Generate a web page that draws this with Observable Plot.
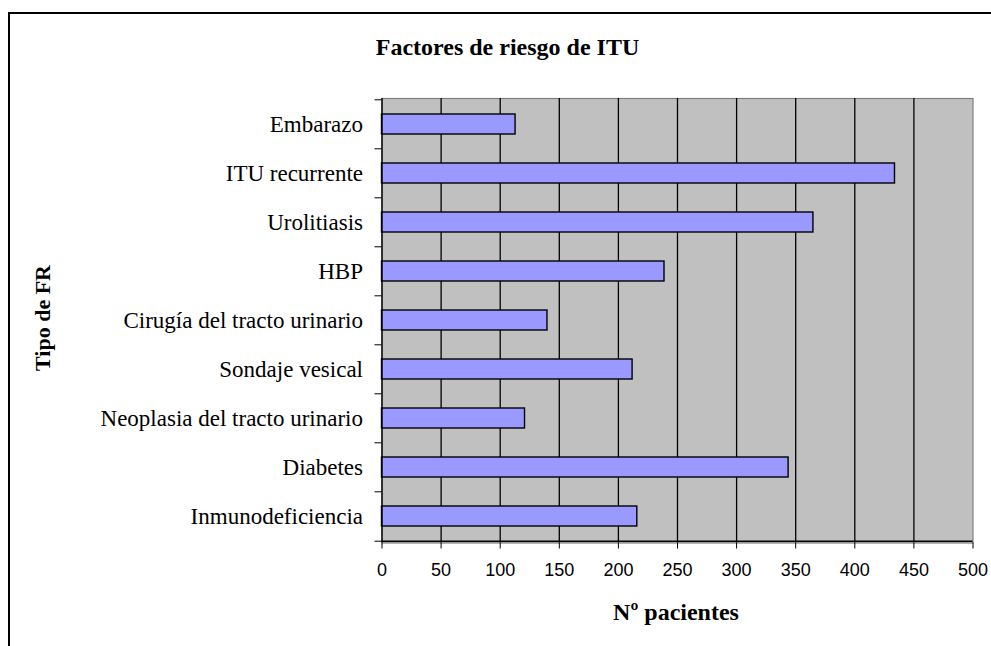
<!DOCTYPE html>
<html><head><meta charset="utf-8">
<script src="https://cdn.jsdelivr.net/npm/d3@7"></script>
<script src="https://cdn.jsdelivr.net/npm/@observablehq/plot@0.6"></script>
<style>
html,body{margin:0;padding:0;background:#fff;overflow:hidden;width:991px;height:646px}
#wrap{position:relative;width:991px;height:646px;overflow:hidden}
#border{position:absolute;left:8px;top:12px;width:1100px;height:800px;border:2px solid #000;box-sizing:border-box}
#chart{position:absolute;left:0;top:0}
.t{position:absolute;font-family:"Liberation Serif","Times New Roman",serif;font-weight:bold;color:#000;white-space:nowrap}
#title{left:0;width:1015px;text-align:center;top:35px;font-size:24px;line-height:24px}
#xlabel{left:376px;width:600px;text-align:center;top:600px;font-size:24px;line-height:24px}
#ylabel{left:42.5px;top:318px;font-size:22px;line-height:1.107;transform:translate(-50%,-50%) rotate(-90deg)}
</style>
</head><body>
<div id="wrap">
  <div id="border"></div>
  <div id="chart"></div>
  <div class="t" id="title">Factores de riesgo de ITU</div>
  <div class="t" id="xlabel">Nº pacientes</div>
  <div class="t" id="ylabel">Tipo de FR</div>
</div>
<script>
const categories = ["Embarazo","ITU recurrente","Urolitiasis","HBP","Cirugía del tracto urinario","Sondaje vesical","Neoplasia del tracto urinario","Diabetes","Inmunodeficiencia"];
const values = [113, 434, 365, 239, 140, 212, 121, 344, 216];
const xTicks = [0, 50, 100, 150, 200, 250, 300, 350, 400, 450, 500];

const data = categories.map((c, i) => ({factor: c, pacientes: values[i]}));
const W = 991, H = 646, mL = 381.5, mR = 18.5, mT = 98, mB = 103.5;
const step = (H - mT - mB) / categories.length;
const last = categories[categories.length - 1];
const serif = '"Liberation Serif","Times New Roman",serif';
const sans = '"Liberation Sans",Arial,sans-serif';

const chart = Plot.plot({
  width: W, height: H,
  marginLeft: mL, marginRight: mR, marginTop: mT, marginBottom: mB,
  style: {background: "transparent", color: "#000", fontFamily: serif},
  x: {domain: [0, 500], ticks: xTicks, label: null},
  y: {domain: categories, paddingInner: 0.6, paddingOuter: 0.3, label: null},
  marks: [
    Plot.frame({fill: "#c0c0c0", stroke: "#808080", strokeWidth: 1.2}),
    Plot.gridX(xTicks.slice(1, -1), {stroke: "#000", strokeOpacity: 1, strokeWidth: 1.3}),
    Plot.barX(data, {x: "pacientes", y: "factor", fill: "#9999ff", stroke: "#000", strokeWidth: 1.4}),
    Plot.ruleX([0], {stroke: "#000", strokeWidth: 1.4}),
    Plot.ruleY([last], {dy: step / 2, stroke: "#000", strokeWidth: 1.4}),
    Plot.axisX(xTicks, {tickSize: 6, tickPadding: 14, fontFamily: sans, fontSize: 18, stroke: "#000", fill: "#000"}),
    Plot.axisY({tickSize: 0, tickPadding: 19, fontFamily: serif, fontSize: 23, fill: "#000"}),
    Plot.axisY({text: null, tickSize: 7, dy: -step / 2, stroke: "#000"}),
    Plot.axisY([last], {text: null, tickSize: 7, dy: step / 2, stroke: "#000"})
  ]
});
document.getElementById("chart").appendChild(chart);
</script>
</body></html>
